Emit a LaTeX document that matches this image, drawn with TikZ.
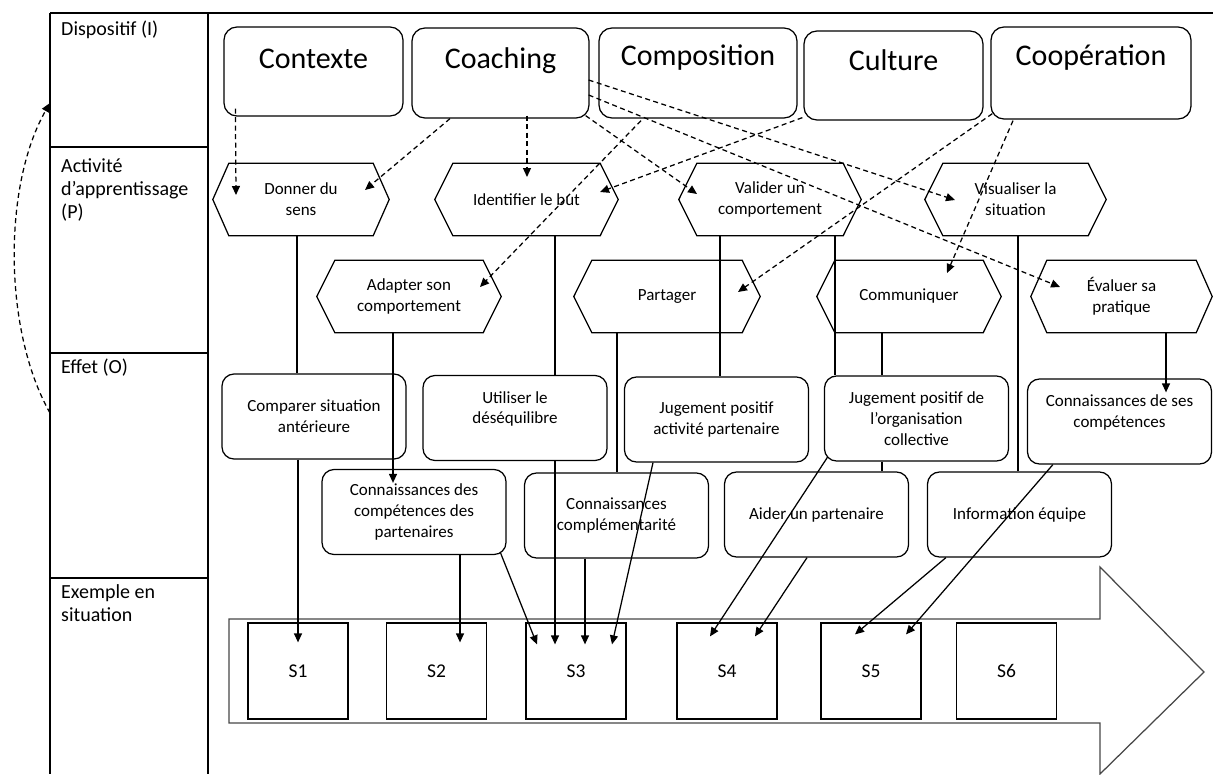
\documentclass[tikz,border=0pt]{standalone}
\usepackage{fontspec}
\setmainfont{Carlito}
\usetikzlibrary{calc,arrows.meta}
\begin{document}
\begin{tikzpicture}[x=1pt,y=-1pt,
  conn/.style={line width=1.25pt},
  arr/.style={conn,-{Triangle[length=9pt,width=8pt]}},
  dsh/.style={arr,dash pattern=on 5pt off 3.5pt},
  topbox/.style={draw,line width=1.25pt,rounded corners=13pt,inner sep=0pt,font=\fontsize{30}{36}\selectfont,text height=20pt},
  effbox/.style={draw,line width=1.25pt,rounded corners=12pt,minimum width=184pt,minimum height=85pt,inner sep=0pt,align=center,font=\fontsize{17}{20.7}\selectfont},
  hexin/.style={minimum height=72pt,inner sep=0pt,align=center,font=\fontsize{17}{20.7}\selectfont},
  sbox/.style={draw,line width=1.25pt,minimum width=100pt,minimum height=96pt,inner sep=0pt,font=\fontsize{19.5}{23}\selectfont},
  rowlab/.style={inner sep=0pt,align=left,font=\fontsize{20}{23}\selectfont}
]
\fill[white] (0,0) rectangle (1213,774);
\useasboundingbox (0,0) rectangle (1213,774);

% table frame
\draw[conn] (50,13) -- (1213,13);
\draw[conn] (50,13) -- (50,774);
\draw[conn] (208,13) -- (208,774);
\foreach \yy in {147,353,578} \draw[conn] (50,\yy) -- (208,\yy);

\node[rowlab,anchor=base west] (lI) at (61,35) {Dispositif (I)};
\node[rowlab,anchor=north west] (lP) at (61,158) {Activité\\d’apprentissage\\(P)};
\node[rowlab,anchor=base west] (lO) at (61,373) {Effet (O)};
\node[rowlab,anchor=north west] (lS) at (61,584) {Exemple en\\situation};

\coordinate (cstart) at (50,413);
\coordinate (cend) at (50,103);
\draw[dsh] (cstart) .. controls (3,330) and (3,185) .. (cend);

% top boxes
\node[topbox,minimum width=179pt,minimum height=89pt,text depth=27pt] (contexte) at (313.5,71.5) {Contexte};
\node[topbox,minimum width=177pt,minimum height=90pt,text depth=30pt] (coaching) at (500.5,73) {Coaching};
\node[topbox,minimum width=198pt,minimum height=90pt,text depth=36pt] (composition) at (698,73) {Composition};
\node[topbox,minimum width=179pt,minimum height=89pt,text depth=31pt] (culture) at (893.5,75.5) {Culture};
\node[topbox,minimum width=200pt,minimum height=92pt,text depth=36pt] (cooperation) at (1091,73) {Coopération};

% hexagons
\node[hexin,minimum width=144pt] (donner) at (301,199.5) {Donner du\\sens};
\node[hexin,minimum width=147pt] (identifier) at (526.5,199.5) {Identifier le but};
\node[hexin,minimum width=146pt] (valider) at (770,199.5) {Valider un\\comportement};
\node[hexin,minimum width=145pt] (visualiser) at (1015.5,199.5) {Visualiser la\\situation};
\node[hexin,minimum width=148pt] (adapter) at (409,296.5) {Adapter son\\comportement};
\node[hexin,minimum width=150pt] (partager) at (667,296.5) {Partager};
\node[hexin,minimum width=148pt] (communiquer) at (909,296.5) {Communiquer};
\node[hexin,minimum width=149pt] (evaluer) at (1121.5,296.5) {Évaluer sa\\pratique};
\foreach \n/\a in {donner/16,identifier/18,valider/18,visualiser/18,adapter/18,partager/18,communiquer/18,evaluer/16}
  \draw[conn,line join=miter] (\n.north west) -- (\n.north east) -- ($(\n.east)+(\a,0)$) -- (\n.south east) -- (\n.south west) -- ($(\n.west)+(-\a,0)$) -- cycle;

% effect boxes
\node[effbox] (comparer) at (314,416.5) {Comparer situation\\antérieure};
\node[effbox] (utiliser) at (515,418) {Utiliser le\\déséquilibre\\\mbox{}};
\node[effbox] (jugact) at (716.5,419.5) {Jugement positif\\activité partenaire};
\node[effbox] (jugorg) at (916.5,418.5) {Jugement positif de\\l’organisation\\collective};
\node[effbox] (connses) at (1119.5,421.5) {Connaissances de ses\\compétences\\\mbox{}};
\node[effbox] (connpart) at (414,512) {Connaissances des\\compétences des\\partenaires};
\node[effbox] (conncompl) at (616.5,515.5) {Connaissances\\complémentarité};
\node[effbox] (aider) at (816.5,514.5) {Aider un partenaire};
\node[effbox] (info) at (1019.5,514.5) {Information équipe};

% big arrow
\draw[line width=1.25pt,draw=black!72,line join=miter] (229,619) -- (1100,619) -- (1100,567) -- (1204,672) -- (1100,774) -- (1100,723) -- (229,723) -- cycle;

% situations
\node[sbox] (s1) at (298,671) {S1};
\node[sbox] (s2) at (436.5,671) {S2};
\node[sbox] (s3) at (576,671) {S3};
\node[sbox] (s4) at (727,671) {S4};
\node[sbox] (s5) at (871,671) {S5};
\node[sbox] (s6) at (1006.5,671) {S6};

% solid connectors
\draw[conn] ($(donner.south)+(-4,0)$) -- ($(comparer.north)+(-17,0)$);
\draw[arr] ($(comparer.south)+(-16,0)$) -- ($(s1.north)+(0,20)$);
\draw[conn] ($(identifier.south)+(28.5,0)$) -- ($(utiliser.north)+(40,0)$);
\draw[arr] ($(utiliser.south)+(40,0)$) -- ($(s3.north)+(-21,22)$);
\draw[conn] ($(valider.south)+(-50,0)$) -- ($(jugact.north)+(3.5,0)$);
\draw[arr] ($(jugact.south)+(-63.5,0)$) -- ($(s3.north)+(36,22)$);
\draw[conn] ($(partager.south)+(-50,0)$) -- ($(conncompl.north)+(0.5,0)$);
\draw[arr] ($(conncompl.south)+(-31.5,0)$) -- ($(s3.north)+(9,22)$);
\draw[conn] ($(valider.south)+(65,0)$) -- ($(jugorg.north)+(-81.5,0)$);
\draw[conn] ($(communiquer.south)+(-27,0)$) -- ($(jugorg.north)+(-34.5,0)$);
\draw[conn] ($(jugorg.south)+(-34.5,0)$) -- ($(aider.north)+(65.5,0)$);
\draw[arr] ($(aider.south)+(-9.5,0)$) -- ($(s4.north)+(28,14)$);
\draw[arr] ($(jugorg.south west)+(4,-5)$) -- ($(s4.north)+(-17,14)$);
\draw[conn] ($(visualiser.south)+(2.5,0)$) -- ($(info.north)+(-1.5,0)$);
\draw[arr] ($(info.south west)+(19,0)$) -- ($(s5.north)+(-16,12)$);
\draw[arr] ($(connses.south west)+(26,0)$) -- ($(s5.north)+(35,12)$);
\draw[arr] ($(evaluer.south)+(44.5,0)$) -- ($(connses.north)+(46.5,14)$);
\draw[arr] ($(adapter.south)+(-16,0)$) -- ($(connpart.north)+(-21,14)$);
\draw[arr] ($(connpart.south)+(46,0)$) -- ($(s2.north)+(23.5,20)$);
\draw[arr] ($(connpart.south east)+(-6,-2)$) -- ($(s3.north)+(-39,22)$);

% dashed connectors
\draw[dsh] ($(contexte.south west)+(12,-8)$) -- ($(donner.center)+(-65,-4.5)$);
\draw[dsh] ($(coaching.south)+(-50.5,0)$) -- ($(donner.center)+(64,-9.5)$);
\draw[dsh] ($(coaching.south)+(26.5,-3)$) -- ($(identifier.center)+(0.5,-22.5)$);
\draw[dsh] ($(coaching.south east)+(-4,-3)$) -- ($(valider.center)+(-73,-5.5)$);
\draw[dsh] ($(coaching.east)+(-1,7)$) -- ($(visualiser.center)+(-60.5,0.5)$);
\draw[dsh] ($(coaching.east)+(-1,22)$) -- ($(evaluer.center)+(-61.5,-9.5)$);
\draw[dsh] ($(composition.south)+(-57,2)$) -- ($(adapter.center)+(71,-9.5)$);
\draw[dsh] ($(culture.south west)+(-1,-3)$) -- ($(identifier.center)+(73.5,-7.5)$);
\draw[dsh] ($(cooperation.south west)+(2,-6)$) -- ($(partager.center)+(71,-4.5)$);
\draw[dsh] ($(cooperation.south)+(-78,1)$) -- ($(communiquer.center)+(38,-23.5)$);
\end{tikzpicture}
\end{document}
